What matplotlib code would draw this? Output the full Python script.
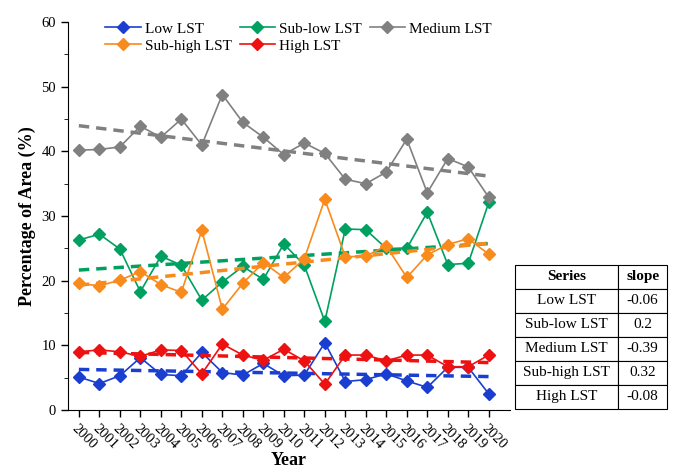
import numpy as np
import matplotlib.pyplot as plt
from matplotlib.ticker import MultipleLocator

plt.rcParams['font.family'] = ['Liberation Serif', 'DejaVu Serif']

# Данные
years = np.arange(2000, 2021)
low = [5.1, 4.1, 5.3, 8.1, 5.5, 5.3, 8.9, 5.8, 5.4, 7.2, 5.3,
       5.4, 10.4, 4.4, 4.7, 5.6, 4.5, 3.5, 6.6, 6.6, 2.5]
sub_low = [26.3, 27.2, 24.9, 18.3, 23.8, 22.4, 17.0, 19.8, 22.2, 20.2, 25.7,
           22.4, 13.7, 28.0, 27.9, 25.0, 25.0, 30.6, 22.5, 22.7, 32.1]
medium = [40.2, 40.3, 40.7, 43.9, 42.2, 45.0, 41.0, 48.8, 44.5, 42.2, 39.5,
          41.3, 39.7, 35.7, 35.0, 36.8, 41.9, 33.6, 38.9, 37.6, 32.9]
sub_high = [19.6, 19.2, 20.1, 21.4, 19.4, 18.2, 27.8, 15.6, 19.6, 22.8, 20.5,
            23.4, 32.6, 23.7, 23.8, 25.4, 20.5, 24.0, 25.6, 26.5, 24.1]
high = [9.0, 9.3, 9.0, 8.3, 9.3, 9.2, 5.6, 10.2, 8.5, 7.7, 9.4,
        7.6, 4.0, 8.5, 8.5, 7.6, 8.5, 8.5, 6.7, 6.7, 8.5]

names = ['Low LST', 'Sub-low LST', 'Medium LST', 'Sub-high LST', 'High LST']
slopes = ['-0.06', '0.2', '-0.39', '0.32', '-0.08']
colors = ['#1a3fd0', '#00a060', '#808080', '#f98a1c', '#ee1111']
series = [low, sub_low, medium, sub_high, high]

fig = plt.figure(figsize=(6.78, 4.71), dpi=100)
ax = fig.add_axes([0.100, 0.1295, 0.652, 0.8235])

handles = []
for name, vals, c in zip(names, series, colors):
    h, = ax.plot(years, vals, color=c, marker='D', markersize=6.5, linewidth=1.2, label=name)
    handles.append(h)
    # линия тренда
    k, b = np.polyfit(years, vals, 1)
    ax.plot(years, k * years + b, color=c, linestyle=(0, (3, 2)), linewidth=2.5)

ax.set_xlim(1999.46, 2021.03)
ax.set_ylim(0, 60)
ax.set_xticks(years)
ax.set_xticklabels([str(y) for y in years], rotation=-45, ha='left',
                   rotation_mode='anchor', fontsize=10.5)
ax.yaxis.set_major_locator(MultipleLocator(10))
ax.yaxis.set_minor_locator(MultipleLocator(5))
ax.tick_params(axis='y', labelsize=10.5)
ax.tick_params(direction='out', length=5, width=1)
ax.tick_params(which='minor', length=3)
ax.spines['top'].set_visible(False)
ax.spines['right'].set_visible(False)
ax.set_xlabel('Year', fontsize=13, fontweight='bold', labelpad=0)
ax.set_ylabel('Percentage of Area (%)', fontsize=13, fontweight='bold')

# порядок по строкам: Low, Sub-low, Medium / Sub-high, High
order = [0, 3, 1, 4, 2]
ax.legend([handles[i] for i in order], [names[i] for i in order],
          loc='upper left', bbox_to_anchor=(0.085, 1.0), ncol=3, frameon=False,
          fontsize=11, handlelength=2.3, handletextpad=0.3, columnspacing=0.5,
          labelspacing=0.2, borderpad=0, borderaxespad=0)

# Таблица
tax = fig.add_axes([0.760, 0.132, 0.224, 0.306])
tax.axis('off')
cells = [[n, s] for n, s in zip(names, slopes)]
tbl = tax.table(cellText=cells, colLabels=['Series', 'slope'], bbox=[0, 0, 1, 1],
                cellLoc='center', colWidths=[0.678, 0.322])
tbl.auto_set_font_size(False)
for (r, c), cell in tbl.get_celld().items():
    cell.set_fontsize(11)
    cell.set_linewidth(0.8)
    if r == 0:
        cell.get_text().set_fontweight('bold')

fig.savefig('out.png', dpi=100)
